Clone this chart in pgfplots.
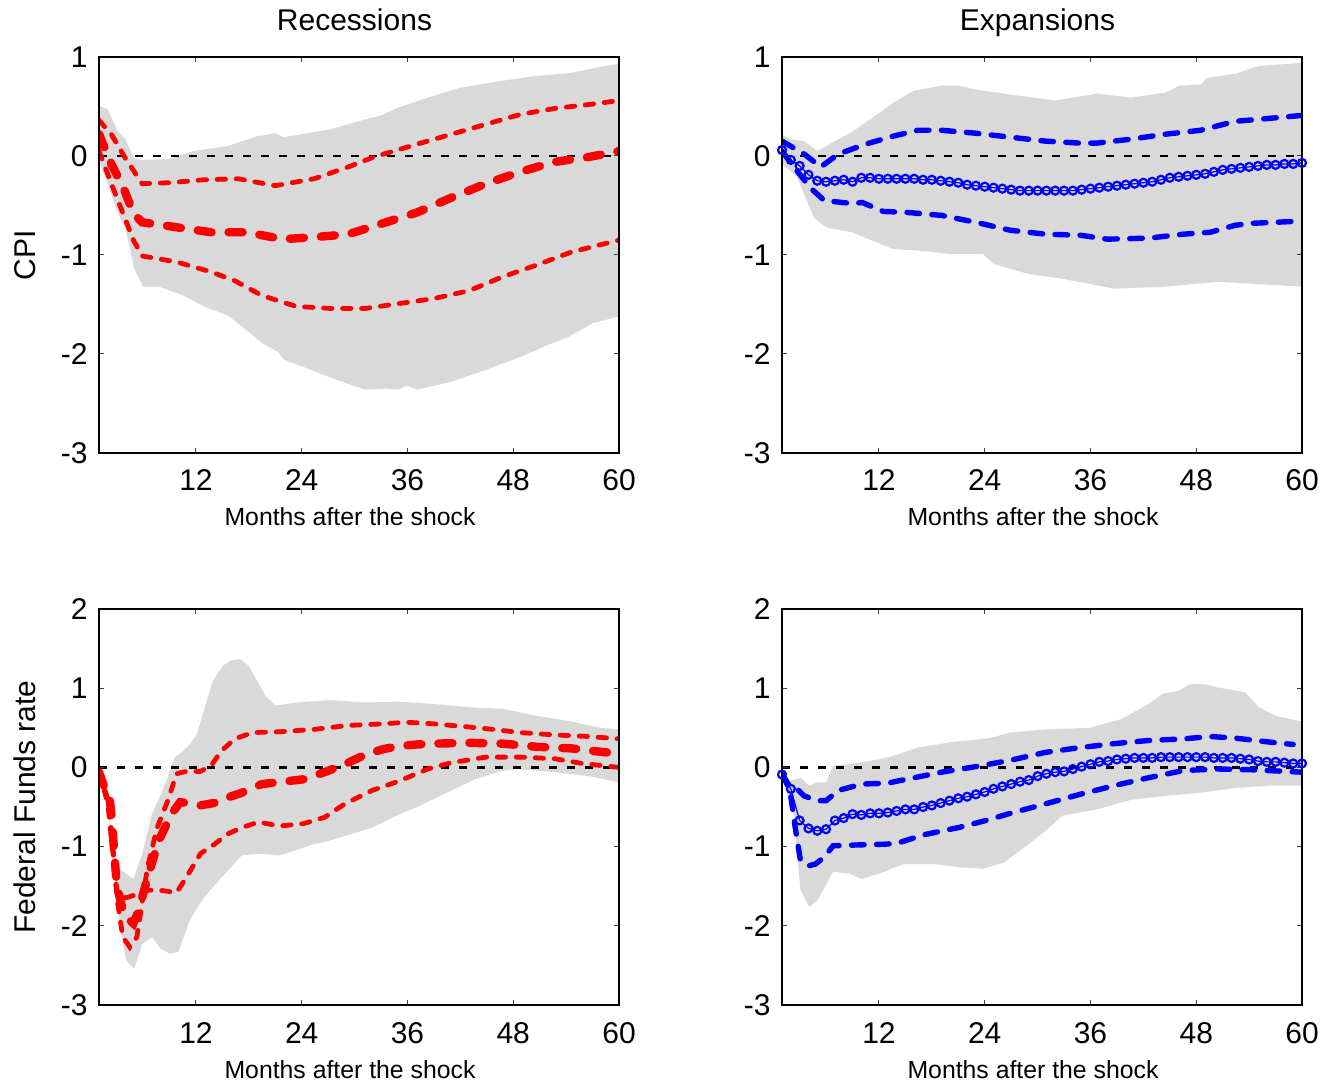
\documentclass[border=0pt]{standalone}
\usepackage{pgfplots}
\pgfplotsset{compat=1.18}
\usepackage{fontspec}
\setmainfont{Liberation Sans}
\definecolor{band}{RGB}{217,217,217}
\definecolor{myred}{RGB}{255,0,0}
\definecolor{myblue}{RGB}{0,0,255}
\pgfplotsset{
  panel/.style={
    scale only axis, width=260pt, height=198pt,
    xmin=1, xmax=60,
    xtick={12,24,36,48,60}, xticklabels={12,24,36,48,60},
    tick align=inside, major tick length=2.5pt,
    tick style={line width=0.5pt, black!75},
    axis line style={line width=0.8pt, black},
    axis on top,
    clip marker paths=false,
    ticklabel style={font=\fontsize{15}{18}\selectfont, inner sep=0pt},
    xticklabel style={anchor=base, yshift=-19pt},
    yticklabel style={anchor=east, xshift=-5.5pt},
    every axis x label/.style={at={(axis description cs:0.5,0)}, anchor=base, xshift=-4.5pt, yshift=-36.5pt, font=\fontsize{12.4}{15}\selectfont},
    every axis y label/.style={at={(axis description cs:0,0.5)}, xshift=-37pt, rotate=90, anchor=center, font=\fontsize{15}{18}\selectfont},
    every axis title/.style={at={(axis description cs:0.5,1)}, anchor=base, xshift=-2.25pt, yshift=13pt, font=\fontsize{15}{18}\selectfont},
    xlabel={Months after the shock},
  },
  topp/.style={ymin=-3, ymax=1, ytick={-3,-2,-1,0,1}, yticklabels={-3,-2,-1,0,1}},
  botp/.style={ymin=-3, ymax=2, ytick={-3,-2,-1,0,1,2}, yticklabels={-3,-2,-1,0,1,2}},
  bandst/.style={fill=band, draw=none},
  redthick/.style={myred, line width=4.2pt, line cap=round, dash pattern=on 7pt off 8.5pt},
  reddot/.style={myred, line width=2.4pt, line cap=round, dash pattern=on 4.2pt off 5.3pt},
  bluedash/.style={myblue, line width=2.7pt, line cap=round, dash pattern=on 6.3pt off 6.2pt},
  bluecirc/.style={myblue, line width=0.6pt, mark=o, mark size=2pt, mark options={solid, fill=white, line width=1.1pt}},
  zeroline/.style={black, line width=1.2pt, dash pattern=on 4pt off 5pt},
}
\begin{document}
\begin{tikzpicture}
\useasboundingbox (0,0) rectangle (668pt,541pt);
% ---------------- Top left: CPI, Recessions
\begin{axis}[panel, topp, at={(49.5pt,314.5pt)}, anchor=south west, title={Recessions}, ylabel={CPI}]
\addplot[bandst] coordinates {(1,0.51)(2,0.47)(3,0.27)(4,0.17)(5,-0.03)(6,-0.04)(9,-0.03)(11.7,0.05)(15.6,0.10)(19,0.20)(21,0.23)(21.9,0.19)(27.3,0.27)(31.2,0.37)(33,0.41)(35,0.49)(39,0.61)(42,0.69)(46.8,0.76)(50.7,0.81)(54.6,0.84)(57.8,0.90)(60,0.93)
(60,-1.62)(57,-1.69)(54.2,-1.83)(51.9,-1.91)(48.8,-2.03)(44.9,-2.16)(41,-2.28)(37.1,-2.36)(35.9,-2.32)(35,-2.36)(33.6,-2.35)(31.2,-2.36)(27.3,-2.24)(24.2,-2.13)(22,-2.06)(21.3,-1.98)(19.5,-1.89)(17.2,-1.72)(15.6,-1.61)(12.9,-1.52)(10.6,-1.41)(7.8,-1.32)(6,-1.32)(5,-1.14)(4,-0.73)(3,-0.55)(2,-0.28)(1,-0.05)};
\addplot[zeroline] coordinates {(1,0)(60,0)};
\addplot[reddot] coordinates {(1,0.36)(2.4,0.22)(3.9,-0.01)(5.9,-0.28)(9,-0.27)(12.9,-0.24)(16.8,-0.23)(21,-0.30)(25.4,-0.23)(29.3,-0.11)(32.2,-0.01)(37.1,0.12)(41,0.22)(44.9,0.32)(48.8,0.42)(52.7,0.48)(56.6,0.52)(60,0.56)};
\addplot[reddot] coordinates {(1,0.05)(2.4,-0.28)(3.9,-0.62)(4.9,-0.85)(5.9,-1.01)(9.8,-1.07)(13.7,-1.17)(16.4,-1.26)(19.5,-1.41)(23.4,-1.52)(27.3,-1.54)(31.2,-1.54)(35.1,-1.49)(39,-1.44)(43,-1.36)(46.8,-1.22)(50.7,-1.10)(54.6,-0.97)(60,-0.85)};
\addplot[redthick] coordinates {(1,0.22)(2.4,-0.08)(3.9,-0.35)(4.9,-0.58)(5.9,-0.67)(9.8,-0.72)(13.7,-0.77)(17.6,-0.77)(21.9,-0.84)(25.4,-0.82)(29.3,-0.79)(33.2,-0.68)(37.1,-0.57)(41,-0.42)(44.9,-0.28)(48.8,-0.16)(52.7,-0.06)(56.6,-0.01)(60,0.05)};
\end{axis}
% ---------------- Top right: CPI, Expansions
\begin{axis}[panel, topp, at={(391pt,314.5pt)}, anchor=south west, title={Expansions}]
\addplot[bandst] coordinates {(1,0.22)(1.9,0.17)(3.5,0.15)(5,0.05)(6.6,0.13)(8.9,0.24)(12.1,0.44)(14,0.56)(16,0.66)(19.1,0.71)(21.1,0.71)(23,0.67)(27,0.62)(32,0.56)(36.7,0.63)(40.6,0.59)(44.5,0.64)(46.1,0.71)(48.5,0.72)(49.2,0.79)(52.4,0.83)(55.1,0.91)(60,0.94)
(60,-1.32)(50.4,-1.27)(44.5,-1.32)(38.7,-1.34)(32.8,-1.24)(28.9,-1.19)(25,-1.09)(23.8,-0.99)(19.9,-0.99)(17.2,-0.96)(13.6,-0.94)(8.9,-0.77)(6,-0.72)(4.6,-0.62)(2.7,-0.21)(1,-0.08)};
\addplot[zeroline] coordinates {(1,0)(60,0)};
\addplot[bluedash] coordinates {(1,0.15)(3.5,0.02)(5.4,-0.11)(7.4,0.02)(10.5,0.12)(13.6,0.20)(16.4,0.26)(19.1,0.26)(23,0.23)(26.9,0.19)(30.9,0.15)(34.8,0.13)(36.7,0.13)(40.6,0.17)(44.5,0.22)(48.5,0.26)(52.4,0.35)(56.3,0.38)(60,0.41)};
\addplot[bluedash] coordinates {(1,0.05)(2.7,-0.15)(4.2,-0.32)(5.8,-0.45)(8.9,-0.48)(10.1,-0.47)(12.5,-0.56)(15.2,-0.57)(19.1,-0.60)(23,-0.67)(26.9,-0.75)(30.9,-0.79)(34.8,-0.80)(37.9,-0.84)(42.6,-0.83)(46.5,-0.79)(49.6,-0.77)(52.4,-0.70)(54.3,-0.68)(59.4,-0.66)};
\addplot[bluecirc] coordinates {(1,0.06)(2,-0.04)(3,-0.10)(4,-0.19)(5,-0.25)(6,-0.26)(7,-0.25)(8,-0.24)(9,-0.26)(10,-0.22)(11,-0.22)(12,-0.23)(13,-0.23)(14,-0.23)(15,-0.23)(16,-0.23)(17,-0.24)(18,-0.24)(19,-0.25)(20,-0.26)(21,-0.27)(22,-0.29)(23,-0.30)(24,-0.31)(25,-0.32)(26,-0.33)(27,-0.34)(28,-0.35)(29,-0.35)(30,-0.35)(31,-0.35)(32,-0.35)(33,-0.35)(34,-0.35)(35,-0.34)(36,-0.33)(37,-0.32)(38,-0.31)(39,-0.30)(40,-0.29)(41,-0.28)(42,-0.27)(43,-0.26)(44,-0.24)(45,-0.22)(46,-0.21)(47,-0.20)(48,-0.19)(49,-0.18)(50,-0.16)(51,-0.14)(52,-0.13)(53,-0.12)(54,-0.11)(55,-0.10)(56,-0.09)(57,-0.09)(58,-0.08)(59,-0.08)(60,-0.07)};
\end{axis}
% ---------------- Bottom left: FFR, Recessions
\begin{axis}[panel, botp, at={(49.5pt,38.5pt)}, anchor=south west, ylabel={Federal Funds rate}]
\addplot[bandst] coordinates {(1,-0.04)(1.6,-0.25)(2.4,-0.84)(3.1,-1.26)(4.9,-1.41)(5.9,-1.09)(7,-0.59)(8.4,-0.25)(9.6,0.13)(10.4,0.19)(11.3,0.29)(12.1,0.42)(13.9,1.09)(15,1.28)(16,1.35)(17,1.37)(18,1.28)(19.9,0.90)(21.1,0.78)(23.4,0.82)(27.3,0.85)(31.2,0.82)(35.1,0.83)(39,0.80)(43,0.76)(46.8,0.74)(50.7,0.65)(54.6,0.58)(57.8,0.50)(60,0.48)
(60,-0.19)(56.6,-0.11)(52.7,-0.06)(48.4,-0.02)(46.8,-0.04)(43.7,-0.15)(41,-0.29)(37.1,-0.50)(35.1,-0.59)(32,-0.76)(27.3,-0.92)(25.4,-0.97)(21.5,-1.11)(19.1,-1.09)(17.2,-1.11)(14.9,-1.39)(12.9,-1.64)(11.3,-1.93)(10,-2.33)(9,-2.35)(8,-2.29)(7,-2.14)(5.9,-2.23)(5,-2.54)(4.1,-2.44)(3.5,-2.10)(2.8,-1.47)(2,-0.50)(1,-0.08)};
\addplot[zeroline] coordinates {(1,0)(60,0)};
\addplot[reddot] coordinates {(1,-0.06)(2,-0.45)(2.6,-1.10)(3.1,-1.70)(3.7,-2.14)(4.5,-2.27)(5.3,-2.14)(5.9,-1.70)(6.5,-1.26)(7.6,-0.76)(8.8,-0.42)(9.8,-0.08)(10.9,-0.05)(12.5,-0.05)(13.7,0.02)(14.9,0.21)(16.4,0.36)(18.4,0.44)(21.5,0.45)(25.4,0.48)(29.3,0.53)(33.2,0.55)(35.9,0.57)(39,0.55)(43,0.51)(45.7,0.48)(48.8,0.44)(52.7,0.41)(56.6,0.39)(60,0.36)};
\addplot[reddot] coordinates {(1,-0.06)(2,-0.40)(2.5,-0.90)(3,-1.55)(3.5,-1.65)(4.3,-1.64)(5.3,-1.60)(6.3,-1.55)(7.8,-1.55)(9.8,-1.58)(10.9,-1.39)(12.5,-1.09)(14.1,-0.97)(15.6,-0.84)(17.2,-0.76)(19.1,-0.69)(21.5,-0.74)(24.2,-0.71)(26.6,-0.63)(28.9,-0.46)(32,-0.29)(35.1,-0.17)(38.3,-0.02)(41,0.06)(44.9,0.13)(48.8,0.13)(52.7,0.11)(55.8,0.05)(60,0.00)};
\addplot[redthick] coordinates {(1,-0.06)(1.6,-0.25)(2.2,-0.38)(2.4,-0.59)(2.8,-1.18)(3,-1.47)(3.5,-1.72)(4.1,-1.89)(4.9,-1.97)(5.5,-1.81)(6.5,-1.39)(7.8,-0.92)(9.2,-0.59)(10.2,-0.44)(11.3,-0.45)(12.5,-0.48)(14.5,-0.44)(15.6,-0.38)(17.2,-0.32)(19.5,-0.21)(21.9,-0.18)(24.2,-0.15)(26.6,-0.06)(28.9,0.04)(31.2,0.16)(33.2,0.23)(35.1,0.27)(37.1,0.29)(39,0.30)(43,0.31)(46.8,0.30)(50.7,0.26)(54.6,0.24)(58.5,0.19)(60,0.18)};
\end{axis}
% ---------------- Bottom right: FFR, Expansions
\begin{axis}[panel, botp, at={(391pt,38.5pt)}, anchor=south west]
\addplot[bandst] coordinates {(1,-0.04)(1.9,-0.17)(3.1,-0.13)(4.1,-0.23)(5,-0.19)(6,-0.19)(6.8,0.02)(8.6,0.04)(10.9,0.08)(13.2,0.13)(16.4,0.25)(20.3,0.32)(24.6,0.37)(26.9,0.44)(30.9,0.48)(35.9,0.50)(39.5,0.61)(42.6,0.80)(44.2,0.93)(46.1,0.97)(47.3,1.05)(48.9,1.05)(50.4,1.01)(53.5,0.95)(55.1,0.76)(57,0.65)(60,0.58)
(60,-0.23)(56.3,-0.23)(52.4,-0.26)(48.5,-0.32)(44.5,-0.36)(40.6,-0.41)(36.7,-0.53)(32.8,-0.61)(30.9,-0.80)(28.5,-1.01)(26.2,-1.20)(23.8,-1.28)(21.1,-1.26)(18.3,-1.22)(14.8,-1.22)(12.5,-1.32)(10.1,-1.41)(8.6,-1.34)(6.8,-1.32)(5,-1.68)(4.1,-1.76)(3.1,-1.55)(2.3,-0.59)(1,-0.13)};
\addplot[zeroline] coordinates {(1,0)(60,0)};
\addplot[bluedash] coordinates {(1,-0.08)(1.9,-0.25)(2.7,-0.27)(3.5,-0.36)(5,-0.42)(6,-0.42)(7.4,-0.29)(10.1,-0.21)(12.9,-0.20)(16,-0.13)(19.1,-0.06)(23,0.01)(26.9,0.09)(30.9,0.19)(34.8,0.25)(38.7,0.30)(42.6,0.34)(46.5,0.36)(49.6,0.39)(52.4,0.37)(56.3,0.32)(59,0.29)};
\addplot[bluedash] coordinates {(1,-0.08)(1.9,-0.29)(2.5,-0.76)(3.1,-1.18)(4.1,-1.24)(4.8,-1.22)(5.8,-1.13)(6.8,-0.99)(9.3,-0.98)(12.5,-0.97)(14,-0.96)(17.1,-0.85)(21,-0.76)(23.8,-0.68)(26.9,-0.58)(30.9,-0.46)(34.8,-0.34)(38.7,-0.23)(42.6,-0.13)(46.5,-0.04)(50.4,-0.02)(54.3,-0.03)(60,-0.06)};
\addplot[bluecirc] coordinates {(1,-0.09)(2,-0.27)(3,-0.67)(4,-0.77)(5,-0.80)(6,-0.78)(7,-0.67)(8,-0.64)(9,-0.59)(10,-0.60)(11,-0.58)(12,-0.58)(13,-0.57)(14,-0.55)(15,-0.53)(16,-0.53)(17,-0.50)(18,-0.48)(19,-0.45)(20,-0.42)(21,-0.39)(22,-0.37)(23,-0.34)(24,-0.31)(25,-0.27)(26,-0.24)(27,-0.21)(28,-0.18)(29,-0.16)(30,-0.11)(31,-0.08)(32,-0.06)(33,-0.05)(34,-0.02)(35,0.01)(36,0.04)(37,0.07)(38,0.08)(39,0.10)(40,0.11)(41,0.12)(42,0.12)(43,0.12)(44,0.13)(45,0.13)(46,0.13)(47,0.13)(48,0.13)(49,0.13)(50,0.12)(51,0.12)(52,0.12)(53,0.11)(54,0.10)(55,0.08)(56,0.07)(57,0.07)(58,0.06)(59,0.05)(60,0.05)};
\end{axis}
\end{tikzpicture}
\end{document}
